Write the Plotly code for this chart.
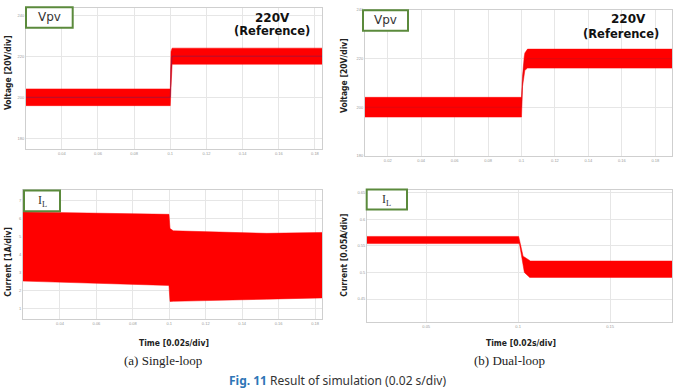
import plotly.graph_objects as go

W, H = 676, 390

# ---------------- data ----------------
# (a) single-loop, PV voltage envelope [V]
t_a = [0.0202, 0.1, 0.1004, 0.1010, 0.1839]
vpv_a_upper = [204.2, 204.2, 222.5, 224.2, 224.2]
vpv_a_lower = [196.0, 196.0, 205.0, 216.3, 216.3]
xt_a = [0.04, 0.06, 0.08, 0.1, 0.12, 0.14, 0.16, 0.18]
yt_a = [180, 200, 220, 240]

# (b) dual-loop, PV voltage envelope [V]
t_b = [0.0064, 0.1, 0.1006, 0.101, 0.1016, 0.102, 0.1036, 0.19]
vpv_b_upper = [204.1, 204.1, 212.6, 218.2, 220.7, 222.3, 223.9, 223.9]
vpv_b_lower = [196.0, 196.0, 208.5, 211.0, 214.6, 215.2, 216.1, 216.1]
xt_b = [0.02, 0.04, 0.06, 0.08, 0.1, 0.12, 0.14, 0.16, 0.18]
yt_b = [180, 200, 220, 240]

# (c) single-loop, inductor current envelope [A]
t_c = [0.0197, 0.0998, 0.1004, 0.1022, 0.1535, 0.1838]
il_c_upper = [6.36, 6.23, 5.45, 5.32, 5.18, 5.23]
il_c_lower = [2.54, 2.30, 1.41, 1.42, 1.54, 1.61]
xt_c = [0.04, 0.06, 0.08, 0.1, 0.12, 0.14, 0.16, 0.18]
yt_c = [1, 2, 3, 4, 5, 6, 7]

# (d) dual-loop, inductor current envelope [A]
t_d = [0.0178, 0.1, 0.1003, 0.1007, 0.1027, 0.1034, 0.1063, 0.1067, 0.1837]
il_d_upper = [0.5678, 0.5678, 0.5678, 0.5616, 0.5307, 0.5291, 0.5222, 0.5215, 0.5215]
il_d_lower = [0.5543, 0.5543, 0.5543, 0.5543, 0.5141, 0.5000, 0.4907, 0.4907, 0.4907]
xt_d = [0.05, 0.1, 0.15]
yt_d = [0.45, 0.5, 0.55, 0.6, 0.65]

# ---------------- layout helpers ----------------
def px_dom(x0, x1, y0, y1):
    return [x0 / W, x1 / W], [1 - y1 / H, 1 - y0 / H]

panels = [
    dict(t=t_a, up=vpv_a_upper, lo=vpv_a_lower, xt=xt_a, yt=yt_a,
         xr=[0.0202, 0.1839], yr=[174.7, 243.9], box=(26, 322, 5, 148),
         center="rgba(110,30,90,0.55)"),
    dict(t=t_b, up=vpv_b_upper, lo=vpv_b_lower, xt=xt_b, yt=yt_b,
         xr=[0.0064, 0.19], yr=[180, 240], box=(365, 672, 7, 155),
         center="rgba(170,20,40,0.35)"),
    dict(t=t_c, up=il_c_upper, lo=il_c_lower, xt=xt_c, yt=yt_c,
         xr=[0.0197, 0.1838], yr=[0.45, 7.6], box=(23, 322, 189, 320), center=None),
    dict(t=t_d, up=il_d_upper, lo=il_d_lower, xt=xt_d, yt=yt_d,
         xr=[0.0178, 0.1837], yr=[0.407, 0.656], box=(367, 672, 189, 323), center=None),
]

fig = go.Figure()
layout = dict(width=W, height=H, margin=dict(l=0, r=0, t=0, b=0),
              paper_bgcolor="white", plot_bgcolor="white", showlegend=False)

RED = "#ff0000"
for i, p in enumerate(panels, start=1):
    xa = "x" if i == 1 else f"x{i}"
    ya = "y" if i == 1 else f"y{i}"
    fig.add_trace(go.Scatter(x=p["t"], y=p["lo"], mode="lines", line=dict(color=RED, width=0.5),
                             xaxis=xa, yaxis=ya, hoverinfo="skip"))
    fig.add_trace(go.Scatter(x=p["t"], y=p["up"], mode="lines", line=dict(color=RED, width=0.5),
                             fill="tonexty", fillcolor=RED, xaxis=xa, yaxis=ya, hoverinfo="skip"))
    if p["center"]:
        mid = [(u + l) / 2 for u, l in zip(p["up"], p["lo"])]
        fig.add_trace(go.Scatter(x=p["t"], y=mid, mode="lines",
                                 line=dict(color=p["center"], width=1),
                                 xaxis=xa, yaxis=ya, hoverinfo="skip"))
    xd, yd = px_dom(*p["box"])
    axcommon = dict(showgrid=True, gridcolor="#e6e6e6", gridwidth=1, zeroline=False,
                    showline=True, mirror=True, linecolor="#cfcfcf", linewidth=1,
                    ticks="", tickfont=dict(size=4, color="#9a9a9a", family="Liberation Sans"))
    layout["xaxis" if i == 1 else f"xaxis{i}"] = dict(
        domain=xd, range=p["xr"], tickvals=p["xt"], anchor=ya, **axcommon)
    layout["yaxis" if i == 1 else f"yaxis{i}"] = dict(
        domain=yd, range=p["yr"], tickvals=p["yt"], anchor=xa, **axcommon)

fig.update_layout(**layout)

# ---------------- labels ----------------
def ann(text, x, y, size, family, color="#222", bold=False, angle=0, xanchor="center"):
    if bold:
        text = f"<b>{text}</b>"
    fig.add_annotation(text=text, x=x / W, y=1 - y / H, xref="paper", yref="paper",
                       showarrow=False, textangle=angle, xanchor=xanchor, yanchor="middle",
                       font=dict(size=size, family=family, color=color))

NARROW = "Liberation Sans Narrow, DejaVu Sans Condensed, Arial Narrow, sans-serif"
ann("Voltage [20V/div]", 8, 71, 8.5, NARROW, bold=True, angle=-90)
ann("Voltage [20V/div]", 344, 74, 8.5, NARROW, bold=True, angle=-90)
ann("Current [1A/div]", 8, 262, 8.5, NARROW, bold=True, angle=-90)
ann("Current [0.05A/div]", 344, 256, 8.5, NARROW, bold=True, angle=-90)
ann("Time [0.02s/div]", 174, 344, 8.5, NARROW, bold=True)
ann("Time [0.02s/div]", 521, 344, 8.5, NARROW, bold=True)
ann("(a) Single-loop", 163, 362, 13, "Liberation Serif, Times New Roman, serif")
ann("(b) Dual-loop", 509, 362, 13, "Liberation Serif, Times New Roman, serif")
fig.add_annotation(text="<span style='color:#2e75b6'><b>Fig. 11</b></span> Result of simulation (0.02 s/div)",
                   x=337 / W, y=1 - 382 / H, xref="paper", yref="paper", showarrow=False,
                   xanchor="center", yanchor="middle",
                   font=dict(size=12, family="Noto Sans, Open Sans, sans-serif", color="#333"))

SANS_B = "DejaVu Sans, Verdana, sans-serif"
ann("220V", 272, 15, 12, SANS_B, bold=True, color="#111")
ann("(Reference)", 272, 28, 11.5, SANS_B, bold=True, color="#111")
ann("220V", 628, 16, 12, SANS_B, bold=True, color="#111")
ann("(Reference)", 621, 31, 11.5, SANS_B, bold=True, color="#111")

# label boxes
GREEN = "#5b8a3c"
boxes = [(26, 72.7, 4.3, 25, "Vpv", SANS_B, 12),
         (363, 408, 7.3, 28, "Vpv", SANS_B, 12),
         (24, 60, 190, 211, "I<sub>L</sub>", "Liberation Serif, serif", 12),
         (366.7, 407, 189, 209.3, "I<sub>L</sub>", "Liberation Serif, serif", 12)]
for x0, x1, y0, y1, txt, fam, fs in boxes:
    fig.add_shape(type="rect", xref="paper", yref="paper",
                  x0=x0 / W, x1=x1 / W, y0=1 - y1 / H, y1=1 - y0 / H,
                  line=dict(color=GREEN, width=2), fillcolor="white", layer="above")
    ann(txt, (x0 + x1) / 2, (y0 + y1) / 2, fs, fam, color="#333")

fig.write_html("out.html")
